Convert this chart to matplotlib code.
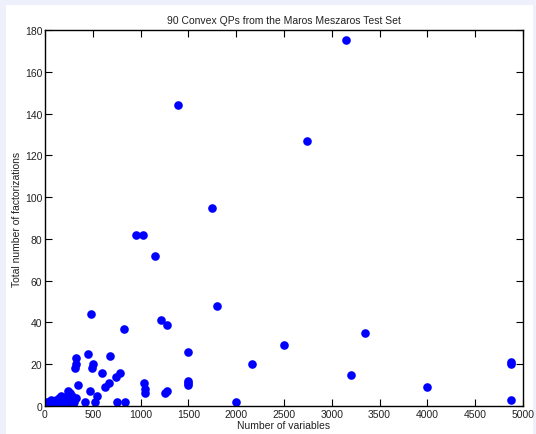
import matplotlib
matplotlib.use("Agg")
import matplotlib.pyplot as plt
from matplotlib.patches import Rectangle

num_vars = [3150, 1390, 2740, 1750, 950, 1030, 1150, 1800, 480, 1210, 1280, 825,
            3350, 2500, 1500, 450, 680, 320, 4870, 4870, 2170, 320, 500, 490, 310,
            600, 780, 3200, 740, 1500, 1040, 1500, 670, 1500, 340, 630, 4000, 1050,
            470, 1280, 1050, 1250, 540, 4870, 2000, 520, 420, 750, 840, 320,
            10, 20, 40, 60, 70, 90, 100, 120, 140, 150, 170, 180, 190, 200, 210,
            230, 240, 250, 260, 270, 280, 290, 300, 30, 50, 80, 110, 130, 160, 220,
            245, 185, 265, 205, 135, 65, 155, 285, 215, 105]
num_fact = [175, 144, 127, 95, 82, 82, 72, 48, 44, 41, 39, 37,
            35, 29, 26, 25, 24, 23, 21, 20, 20, 20, 20, 18, 18,
            16, 16, 15, 14, 12, 11, 11, 11, 10, 10, 9, 9, 8,
            7, 7, 6, 6, 5, 3, 2, 2, 2, 2, 2, 4,
            1, 2, 2, 3, 2, 1, 2, 3, 2, 4, 5, 2, 3, 1, 4,
            5, 2, 3, 6, 2, 3, 1, 2, 1, 1, 2, 1, 1, 1, 2,
            7, 4, 4, 3, 1, 2, 3, 5, 1, 1]

title = "90 Convex QPs from the Maros Meszaros Test Set"
xlabel = "Number of variables"
ylabel = "Total number of factorizations"

plt.rcParams['font.family'] = ['Liberation Sans', 'DejaVu Sans']

fig = plt.figure(figsize=(5.36, 4.35), dpi=100)
fig.patch.set_facecolor('#eef0fc')
fig.patches.append(Rectangle((6/536, 0), (533-6)/536, (435-6)/435,
                             transform=fig.transFigure, facecolor='white',
                             edgecolor='none', zorder=-1))

ax = fig.add_axes([45/536, (435-407)/435, (523-45)/536, (407-31)/435])
ax.plot(num_vars, num_fact, 'o', color='#0000ff', markersize=6.2,
        markeredgewidth=0)
ax.set_xlim(0, 5000)
ax.set_ylim(0, 180)
ax.set_xticks(range(0, 5001, 500))
ax.set_yticks(range(0, 181, 20))
ax.tick_params(direction='in', top=True, right=True, length=5, width=0.8,
               labelsize=7.5, colors='black', labelcolor='#222222', pad=2)
for s in ax.spines.values():
    s.set_linewidth(1.0)
ax.set_title(title, fontsize=7.5, color='#222222', pad=5)
ax.set_xlabel(xlabel, fontsize=7.5, color='#222222', labelpad=1)
ax.set_ylabel(ylabel, fontsize=7.5, color='#222222', labelpad=2)

fig.savefig("out.png", dpi=100, facecolor=fig.get_facecolor())
